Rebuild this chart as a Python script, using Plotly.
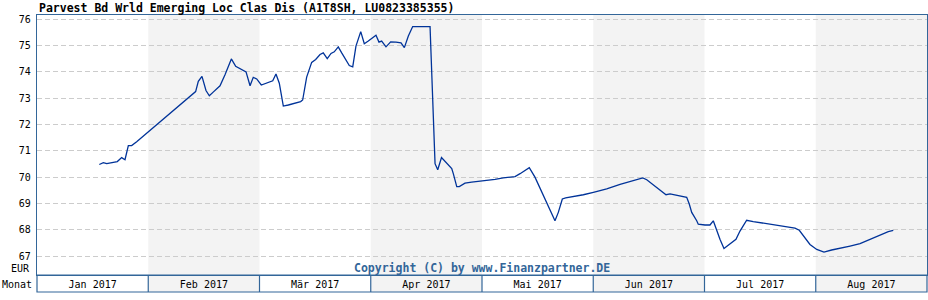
import plotly.graph_objects as go

# x positions in months since 1 Jan 2017 (each month has equal width on this chart)
month_pos = [
    0.560, 0.596, 0.627, 0.686, 0.722, 0.761, 0.791, 0.821, 0.851, 0.896,
    1.405, 1.426, 1.450, 1.483, 1.519, 1.549, 1.579, 1.645, 1.690, 1.747,
    1.786, 1.879, 1.915, 1.944, 1.975,
    2.016, 2.119, 2.148, 2.178, 2.214, 2.259, 2.370, 2.388, 2.424, 2.469,
    2.505, 2.544, 2.573, 2.609, 2.643, 2.672, 2.708, 2.739, 2.807, 2.838,
    2.867, 2.910, 2.942, 2.978,
    3.018, 3.047, 3.074, 3.098, 3.137, 3.179, 3.227, 3.272, 3.302, 3.338,
    3.377, 3.533, 3.578, 3.602, 3.636, 3.683, 3.728, 3.742, 3.773, 3.796,
    3.847, 3.907, 3.982,
    4.042, 4.117, 4.191, 4.297, 4.342, 4.387, 4.425, 4.476, 4.551, 4.618,
    4.656, 4.686, 4.722, 4.752, 4.821, 4.911,
    5.001, 5.121, 5.241, 5.360, 5.445, 5.481, 5.570, 5.654, 5.690, 5.764,
    5.840, 5.863, 5.885, 5.930, 5.944,
    6.004, 6.049, 6.079, 6.110, 6.139, 6.175, 6.214, 6.253, 6.283, 6.319,
    6.379, 6.438, 6.514, 6.589, 6.663, 6.739, 6.813, 6.852, 6.903, 6.948,
    7.009, 7.074, 7.143, 7.218, 7.308, 7.398, 7.488, 7.578, 7.652, 7.697,
]

price_eur = [
    70.48, 70.55, 70.51, 70.55, 70.59, 70.74, 70.66, 71.20, 71.20, 71.34,
    73.17, 73.25, 73.64, 73.83, 73.29, 73.09, 73.21, 73.47, 73.89, 74.49,
    74.21, 74.00, 73.47, 73.79, 73.73,
    73.50, 73.66, 73.92, 73.57, 72.70, 72.74, 72.87, 72.93, 73.80, 74.36,
    74.47, 74.66, 74.72, 74.50, 74.70, 74.76, 74.95, 74.72, 74.24, 74.19,
    74.98, 75.53, 75.07, 75.17,
    75.30, 75.39, 75.13, 75.17, 74.95, 75.14, 75.13, 75.10, 74.92, 75.36,
    75.72, 75.72, 70.51, 70.28, 70.74, 70.51, 70.32, 70.13, 69.64, 69.64,
    69.77, 69.81, 69.84,
    69.87, 69.91, 69.97, 70.02, 70.13, 70.25, 70.36, 70.00, 69.30, 68.66,
    68.34, 68.66, 69.17, 69.21, 69.26, 69.33,
    69.42, 69.55, 69.72, 69.87, 69.97, 69.90, 69.61, 69.33, 69.36, 69.30,
    69.23, 68.98, 68.66, 68.34, 68.21,
    68.18, 68.18, 68.34, 67.95, 67.64, 67.29, 67.42, 67.57, 67.64, 67.95,
    68.36, 68.31, 68.26, 68.21, 68.15, 68.11, 68.06, 67.98, 67.67, 67.44,
    67.25, 67.15, 67.23, 67.29, 67.38, 67.47, 67.64, 67.80, 67.93, 67.98,
]

month_labels = ["Jan 2017", "Feb 2017", "Mär 2017", "Apr 2017",
                "Mai 2017", "Jun 2017", "Jul 2017", "Aug 2017"]
y_ticks = [67, 68, 69, 70, 71, 72, 73, 74, 75, 76]

title_text = "Parvest Bd Wrld Emerging Loc Clas Dis (A1T8SH, LU0823385355)"
copyright_text = "Copyright (C) by www.Finanzpartner.DE"

W, H = 928, 300
ML, MR, MT, MB = 37, 1, 15, 25
plot_h = H - MT - MB
band = 17 / plot_h

FRAME = "#336699"
SHADE = "#f3f3f3"
MONO = "DejaVu Sans Mono"

fig = go.Figure()
fig.add_trace(go.Scatter(
    x=month_pos, y=price_eur, mode="lines",
    line=dict(color="#003399", width=1.3),
    hoverinfo="skip", showlegend=False,
))

n = len(month_labels)
shapes = []
for i in range(n):
    if i % 2 == 1:
        shapes.append(dict(type="rect", xref="x", yref="paper", x0=i, x1=i + 1,
                           y0=-band, y1=1, fillcolor=SHADE, line=dict(width=0),
                           layer="below"))
for i in range(1, n):
    shapes.append(dict(type="line", xref="x", yref="paper", x0=i, x1=i,
                       y0=-band, y1=0, line=dict(color=FRAME, width=1.2),
                       layer="above"))
shapes.append(dict(type="rect", xref="paper", yref="paper", x0=0, x1=1,
                   y0=-band, y1=0, line=dict(color=FRAME, width=1.2),
                   fillcolor="rgba(0,0,0,0)", layer="above"))

def py(pix):
    return (H - MB - pix) / plot_h

annotations = [
    dict(text=title_text, xref="paper", yref="paper", x=0, y=py(8),
         xanchor="left", yanchor="middle", showarrow=False,
         font=dict(family=MONO, size=11.5, color="#000000", weight="bold")),
    dict(text=copyright_text, xref="paper", yref="paper", x=0.5, y=py(268),
         xanchor="center", yanchor="middle", showarrow=False,
         font=dict(family=MONO, size=11.5, color=FRAME, weight="bold")),
    dict(text="EUR", xref="paper", yref="paper", x=-5 / (W - ML - MR), y=py(268),
         xanchor="right", yanchor="middle", showarrow=False,
         font=dict(family=MONO, size=10, color="#000000")),
    dict(text="Monat", xref="paper", yref="paper", x=-ML / (W - ML - MR), y=py(284),
         xanchor="left", yanchor="middle", showarrow=False,
         font=dict(family=MONO, size=10, color="#000000")),
]

fig.update_layout(
    width=W, height=H,
    margin=dict(l=ML, r=MR, t=MT, b=MB, pad=0),
    paper_bgcolor="white", plot_bgcolor="white",
    shapes=shapes, annotations=annotations,
    showlegend=False,
    xaxis=dict(
        range=[0, n], tickvals=[i + 0.5 for i in range(n)], ticktext=month_labels,
        showgrid=False, zeroline=False, ticks="",
        showline=True, mirror=True, linecolor=FRAME, linewidth=1.2,
        tickfont=dict(family=MONO, size=10, color="#000000"),
        fixedrange=True,
    ),
    yaxis=dict(
        range=[66.28, 76.16], tickvals=y_ticks,
        showgrid=True, gridcolor="#cccccc", gridwidth=1, griddash="5px,3px",
        zeroline=False, ticks="",
        showline=True, mirror=True, linecolor=FRAME, linewidth=1.2,
        tickfont=dict(family=MONO, size=10, color="#000000"),
        ticklabelstandoff=3,
        fixedrange=True,
    ),
)

fig.write_html("out.html")
